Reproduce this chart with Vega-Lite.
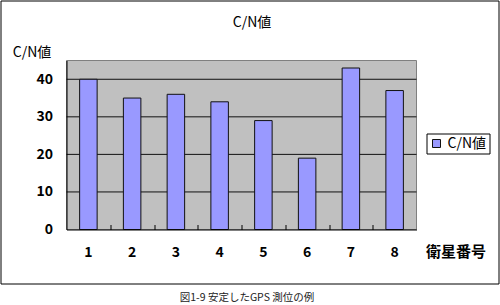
{
  "$schema": "https://vega.github.io/schema/vega-lite/v6.json",
  "width": 498,
  "height": 283,
  "autosize": {"type": "none"},
  "padding": {"left": 0.5, "top": 0.5, "right": 1.5, "bottom": 21.5},
  "background": "white",
  "config": {
    "view": {"stroke": "#000", "strokeWidth": 1, "fill": "white"},
    "font": "Noto Sans CJK JP"
  },
  "datasets": {
    "sats": [
      {"satellite": 1, "cn": 40},
      {"satellite": 2, "cn": 35},
      {"satellite": 3, "cn": 36},
      {"satellite": 4, "cn": 34},
      {"satellite": 5, "cn": 29},
      {"satellite": 6, "cn": 19},
      {"satellite": 7, "cn": 43},
      {"satellite": 8, "cn": 37}
    ],
    "grid": [{"g": 10}, {"g": 20}, {"g": 30}, {"g": 40}]
  },
  "resolve": {"scale": {"x": "independent"}, "axis": {"x": "independent"}},
  "layer": [
    {
      "data": {"values": [{}]},
      "mark": {"type": "rect", "fill": "#C0C0C0", "stroke": "#808080", "strokeWidth": 1},
      "encoding": {
        "x": {
          "datum": 0,
          "type": "quantitative",
          "scale": {"domain": [0, 1], "range": [66, 416], "nice": false, "zero": false},
          "axis": {
            "orient": "bottom",
            "offset": -59,
            "values": [0.125, 0.25, 0.375, 0.5, 0.625, 0.75, 0.875],
            "domain": false,
            "ticks": true,
            "tickSize": 5,
            "tickColor": "#000",
            "tickWidth": 1,
            "labels": false,
            "grid": false,
            "zindex": 1,
            "title": "図1-9 安定したGPS 測位の例",
            "titleX": 246,
            "titleY": 73,
            "titleFontSize": 10.5,
            "titleFontWeight": "normal",
            "titleBaseline": "middle",
            "titleAlign": "center",
            "titleColor": "#222"
          }
        },
        "x2": {"datum": 1},
        "y": {
          "datum": 0,
          "type": "quantitative",
          "scale": {"domain": [0, 45], "range": [229, 60], "nice": false, "zero": true}
        },
        "y2": {"datum": 45}
      }
    },
    {
      "data": {"name": "grid"},
      "mark": {"type": "rule", "color": "#111", "strokeWidth": 1},
      "encoding": {
        "x": {
          "datum": 0,
          "type": "quantitative",
          "scale": {"domain": [0, 1], "range": [66, 416], "nice": false, "zero": false},
          "axis": {
            "orient": "top",
            "domain": false,
            "ticks": false,
            "labels": false,
            "grid": false,
            "title": "C/N値",
            "titleX": 251,
            "titleY": 22,
            "titleFontSize": 14,
            "titleFontWeight": "normal",
            "titleBaseline": "middle",
            "titleAlign": "center",
            "titleColor": "#000"
          }
        },
        "x2": {"datum": 1},
        "y": {
          "field": "g",
          "type": "quantitative",
          "scale": {"domain": [0, 45], "range": [229, 60], "nice": false, "zero": true}
        }
      }
    },
    {
      "data": {"name": "sats"},
      "mark": {"type": "bar", "stroke": "#111", "strokeWidth": 1},
      "encoding": {
        "x": {
          "field": "satellite",
          "type": "ordinal",
          "scale": {"range": [66, 416], "paddingInner": 0.6, "paddingOuter": 0.3},
          "axis": {
            "orient": "bottom",
            "offset": -54,
            "domain": true,
            "domainColor": "#000",
            "ticks": false,
            "labelAngle": 0,
            "labelFontSize": 14,
            "labelFontWeight": "bold",
            "labelPadding": 16,
            "labelColor": "#000",
            "title": "衛星番号",
            "titleX": 455,
            "titleY": 22,
            "titleFontSize": 15,
            "titleFontWeight": "bold",
            "titleBaseline": "middle",
            "titleAlign": "center",
            "titleColor": "#000",
            "zindex": 1
          }
        },
        "y": {
          "field": "cn",
          "type": "quantitative",
          "scale": {"domain": [0, 45], "range": [229, 60], "nice": false, "zero": true},
          "axis": {
            "orient": "left",
            "offset": -66,
            "values": [0, 10, 20, 30, 40],
            "ticks": false,
            "grid": false,
            "domainColor": "#000",
            "labelPadding": 14,
            "labelFontSize": 14,
            "labelFontWeight": "bold",
            "labelColor": "#000",
            "title": "C/N値",
            "titleAngle": 0,
            "titleX": -35,
            "titleY": 52,
            "titleAlign": "center",
            "titleBaseline": "middle",
            "titleFontSize": 14,
            "titleFontWeight": "normal",
            "titleColor": "#000",
            "zindex": 1
          }
        },
        "color": {
          "datum": "C/N値",
          "type": "nominal",
          "scale": {"range": ["#9999FF"]},
          "legend": {
            "orient": "none",
            "legendX": 426,
            "legendY": 133,
            "title": null,
            "strokeColor": "#000",
            "fillColor": "white",
            "padding": 3,
            "symbolType": "square",
            "symbolSize": 64,
            "symbolStrokeColor": "#111",
            "symbolStrokeWidth": 1,
            "labelFontSize": 14,
            "labelColor": "#000",
            "labelOffset": 4
          }
        }
      }
    }
  ]
}
